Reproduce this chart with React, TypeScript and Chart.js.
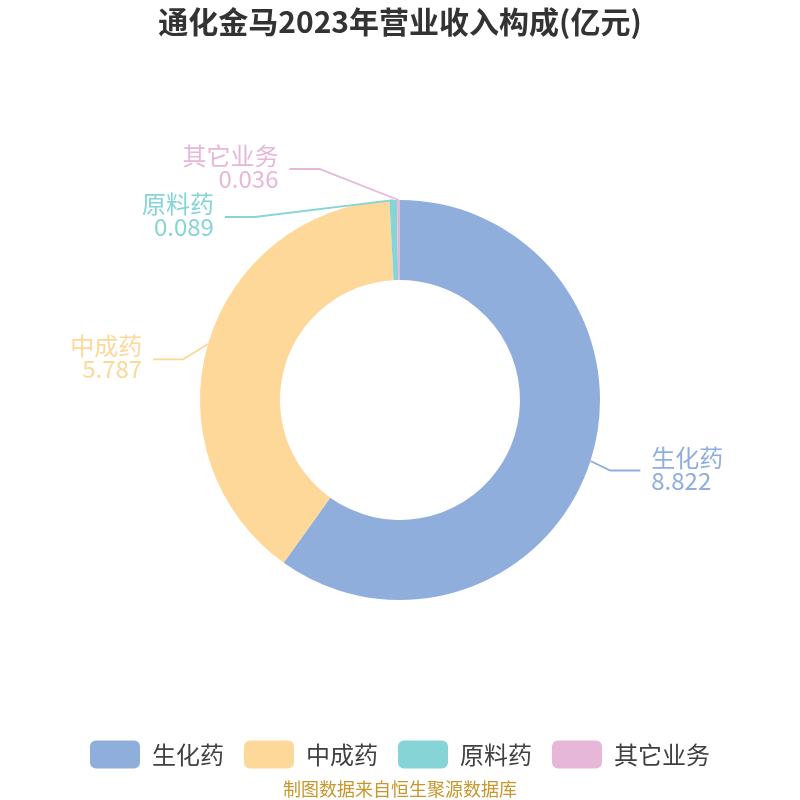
import React, { useEffect, useRef } from 'react';
import { Chart, registerables } from 'chart.js';

Chart.register(...registerables);

const TITLE = '通化金马2023年营业收入构成(亿元)';
const SOURCE = '制图数据来自恒生聚源数据库';
const categories = ['生化药', '中成药', '原料药', '其它业务'];
const revenue = [8.822, 5.787, 0.089, 0.036];
const sliceColors = ['#8FAEDB', '#FDD899', '#86D4D6', '#E6B7D8'];

const FONT = "'Noto Sans CJK SC', 'Noto Sans', sans-serif";

type Item = { i: number; dir: number; x1: number; y1: number; x: number; y: number };

const outerLabels = {
  id: 'outerLabels',
  afterDatasetsDraw(chart: any) {
    const meta = chart.getDatasetMeta(0);
    const ctx: CanvasRenderingContext2D = chart.ctx;
    const LEN = 31;
    const LEN2 = 30;
    const GAP = 11;
    const H = 48;
    const viewTop = 0;
    const viewHeight = chart.height;
    let cx = 0;
    let cy = 0;
    let r = 0;
    const items: Item[] = meta.data.map((el: any, i: number) => {
      const p = el.getProps(['x', 'y', 'startAngle', 'endAngle', 'outerRadius'], true);
      cx = p.x;
      cy = p.y;
      r = p.outerRadius;
      const mid = (p.startAngle + p.endAngle) / 2;
      const dx = Math.cos(mid);
      const dy = Math.sin(mid);
      const dir = dx < 0 ? -1 : 1;
      const x2 = p.x + (r + LEN) * dx;
      const y2 = p.y + (r + LEN) * dy;
      const x3 = x2 + dir * LEN2;
      return { i, dir, x1: p.x + r * dx, y1: p.y + r * dy, x: x3 + dir * 5, y: y2 };
    });

    const adjustSide = (list: Item[], dir: number) => {
      list.sort((a, b) => a.y - b.y);
      const shiftUp = (end: number, delta: number) => {
        for (let j = end; j >= 0; j--) {
          if (list[j].y - delta < viewTop) break;
          list[j].y -= delta;
          if (j > 0 && list[j].y > list[j - 1].y + H) break;
        }
      };
      const shiftDown = (start: number, end: number, delta: number) => {
        for (let j = start; j < end; j++) {
          if (list[j].y + delta > viewTop + viewHeight) break;
          list[j].y += delta;
          if (j > start && j + 1 < end && list[j + 1].y > list[j].y + H) {
            shiftUp(j, delta / 2);
            return;
          }
        }
        shiftUp(end - 1, delta / 2);
      };
      let lastY = 0;
      for (let i = 0; i < list.length; i++) {
        const delta = list[i].y - lastY;
        if (delta < 0) shiftDown(i, list.length, -delta);
        lastY = list[i].y + H;
      }
      const changeX = (sub: Item[], isDown: boolean) => {
        let lastDX = isDown ? Number.MAX_VALUE : 0;
        for (const it of sub) {
          const dY = Math.abs(it.y - cy);
          let dX = dY < r + LEN
            ? Math.sqrt((r + LEN + LEN2) * (r + LEN + LEN2) - dY * dY)
            : Math.abs(it.x - cx);
          if (isDown && dX >= lastDX) dX = lastDX - 10;
          if (!isDown && dX <= lastDX) dX = lastDX + 10;
          it.x = cx + dX * dir;
          lastDX = dX;
        }
      };
      changeX(list.filter((it) => it.y < cy), false);
      changeX(list.filter((it) => it.y >= cy), true);
    };

    adjustSide(items.filter((it) => it.dir < 0), -1);
    adjustSide(items.filter((it) => it.dir > 0), 1);

    ctx.save();
    for (const it of items) {
      const color = sliceColors[it.i];
      const lineEnd = it.x - it.dir * GAP;
      const elbow = lineEnd - it.dir * LEN2;
      ctx.strokeStyle = color;
      ctx.lineWidth = 1.8;
      ctx.beginPath();
      ctx.moveTo(it.x1, it.y1);
      ctx.lineTo(elbow, it.y);
      ctx.lineTo(lineEnd, it.y);
      ctx.stroke();
      ctx.fillStyle = color;
      ctx.font = `24px ${FONT}`;
      ctx.textAlign = it.dir < 0 ? 'right' : 'left';
      ctx.textBaseline = 'middle';
      ctx.fillText(categories[it.i], it.x, it.y - 13);
      ctx.fillText(String(revenue[it.i]), it.x, it.y + 10);
    }
    ctx.restore();
  },
};

export default function App() {
  const ref = useRef<HTMLCanvasElement | null>(null);
  useEffect(() => {
    if (!ref.current) return;
    const chart = new Chart(ref.current, {
      type: 'doughnut',
      data: {
        labels: categories,
        datasets: [
          {
            data: revenue,
            backgroundColor: sliceColors,
            borderWidth: 0,
          },
        ],
      },
      options: {
        responsive: false,
        animation: false,
        events: [],
        radius: 200,
        cutout: '60%',
        layout: { padding: 0 },
        plugins: {
          tooltip: { enabled: false },
          title: {
            display: true,
            text: TITLE,
            color: '#333333',
            font: { size: 30, weight: 'bold', family: FONT },
            padding: { top: 4, bottom: 39.6 },
          },
          subtitle: {
            display: true,
            text: SOURCE,
            position: 'bottom',
            color: '#C8962D',
            font: { size: 18, family: FONT },
            padding: { top: 0, bottom: 0 },
          },
          legend: {
            display: true,
            position: 'bottom',
            labels: {
              boxWidth: 50,
              boxHeight: 28,
              padding: 20,
              color: '#404040',
              font: { size: 24, family: FONT },
              generateLabels: () =>
                categories.map((c, i) => ({
                  text: c,
                  fillStyle: sliceColors[i],
                  strokeStyle: sliceColors[i],
                  lineWidth: 0,
                  borderRadius: 6,
                  fontColor: '#404040',
                  hidden: false,
                  index: i,
                })),
            },
          },
        },
      } as any,
      plugins: [outerLabels],
    });
    return () => chart.destroy();
  }, []);
  return (
    <div style={{ position: 'absolute', left: 0, top: 0, width: 800, height: 800, background: '#fff' }}>
      <canvas ref={ref} width={800} height={800} style={{ display: 'block' }} />
    </div>
  );
}
